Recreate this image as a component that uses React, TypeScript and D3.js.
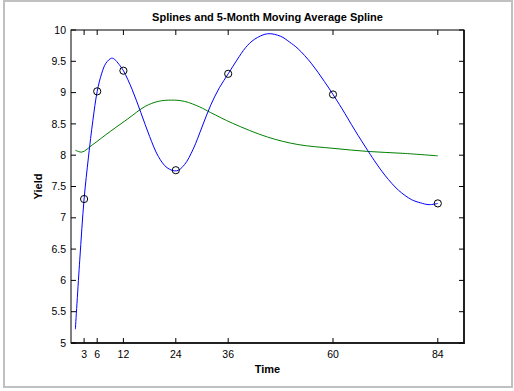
import React from 'react';
import * as d3 from 'd3';

// knots of the spline (the circles)
const knotTimes = [3, 6, 12, 24, 36, 60, 84];
const knotYields = [7.3, 9.02, 9.35, 7.76, 9.3, 8.97, 7.23];

// spline through the knots
const splineTimes = [1, 2, 3, 4, 5, 6, 7, 8, 9.3, 10, 11, 12, 14, 16, 18, 20, 22, 24.2, 26, 28, 30, 32, 34, 36, 38, 40, 42, 45, 48, 50, 52, 55, 58, 60, 62, 65, 68, 70, 72, 75, 78, 80, 82, 84];
const splineYields = [5.22, 6.32, 7.3, 7.97, 8.55, 9.02, 9.3, 9.47, 9.55, 9.53, 9.45, 9.35, 9.05, 8.68, 8.3, 7.98, 7.8, 7.75, 7.85, 8.1, 8.45, 8.8, 9.08, 9.3, 9.52, 9.72, 9.85, 9.94, 9.9, 9.81, 9.7, 9.47, 9.18, 8.97, 8.75, 8.4, 8.07, 7.86, 7.67, 7.44, 7.29, 7.24, 7.21, 7.23];

// 5-month moving average spline
const avgTimes = [1, 2.5, 5, 9, 13, 17, 20, 23, 26, 29.5, 32, 37, 45, 52, 60, 68, 76, 84];
const avgYields = [8.08, 8.05, 8.17, 8.38, 8.58, 8.78, 8.86, 8.88, 8.86, 8.77, 8.68, 8.51, 8.29, 8.17, 8.11, 8.06, 8.03, 7.99];

const xTicks = [3, 6, 12, 24, 36, 60, 84];
const yTicks = [5, 5.5, 6, 6.5, 7, 7.5, 8, 8.5, 9, 9.5, 10];

const W = 514;
const H = 391;
const box = { left: 71, top: 30, right: 464, bottom: 343 };
const font = 'Arial, "Liberation Sans", Helvetica, sans-serif';

export default function App() {
  const x = d3.scaleLinear().domain([0, 90]).range([box.left, box.right]);
  const y = d3.scaleLinear().domain([5, 10]).range([box.bottom, box.top]);

  const line = d3.line<[number, number]>()
    .x(d => x(d[0]))
    .y(d => y(d[1]))
    .curve(d3.curveCatmullRom.alpha(0.5));

  const spline = splineTimes.map((t, i) => [t, splineYields[i]] as [number, number]);
  const avg = avgTimes.map((t, i) => [t, avgYields[i]] as [number, number]);
  const tickLen = 5;

  return (
    <svg width={W} height={H} style={{ position: 'absolute', left: 0, top: 0, background: '#fff' }}>
      <rect x={4} y={1} width={508} height={386} fill="#fff" stroke="#c0c0c0" strokeWidth={2} />

      {/* axes box */}
      <rect x={box.left} y={box.top} width={box.right - box.left} height={box.bottom - box.top}
        fill="#fff" stroke="#000" strokeWidth={1} />
      <line x1={box.right} x2={box.right} y1={box.top} y2={box.bottom + 1} stroke="#222" strokeWidth={2} />
      <line x1={box.left} x2={box.right + 1} y1={box.bottom} y2={box.bottom} stroke="#222" strokeWidth={2} />

      {/* y ticks */}
      {yTicks.map(t => (
        <g key={'y' + t}>
          <line x1={box.left} x2={box.left + tickLen} y1={y(t)} y2={y(t)} stroke="#000" />
          <line x1={box.right - tickLen} x2={box.right} y1={y(t)} y2={y(t)} stroke="#000" />
          <text x={box.left - 5} y={y(t)} dy="0.35em" textAnchor="end" fontSize={10.5} fontFamily={font}>{t}</text>
        </g>
      ))}

      {/* x ticks */}
      {xTicks.map(t => (
        <g key={'x' + t}>
          <line x1={x(t)} x2={x(t)} y1={box.bottom} y2={box.bottom - tickLen} stroke="#000" />
          <line x1={x(t)} x2={x(t)} y1={box.top} y2={box.top + tickLen} stroke="#000" />
          <text x={x(t)} y={357.5} textAnchor="middle" fontSize={10.5} fontFamily={font}>{t}</text>
        </g>
      ))}

      <path d={line(avg) ?? ''} fill="none" stroke="#008000" strokeWidth={1} />
      <path d={line(spline) ?? ''} fill="none" stroke="#0000ff" strokeWidth={1} />

      {knotTimes.map((t, i) => (
        <circle key={'c' + t} cx={x(t)} cy={y(knotYields[i])} r={3.6} fill="none" stroke="#000" strokeWidth={1} />
      ))}

      <text x={(box.left + box.right) / 2} y={21} textAnchor="middle" fontSize={11} fontWeight="bold" fontFamily={font}>
        Splines and 5-Month Moving Average Spline
      </text>
      <text x={(box.left + box.right) / 2} y={372.5} textAnchor="middle" fontSize={11} fontWeight="bold" fontFamily={font}>
        Time
      </text>
      <text transform={`translate(41.5,${(box.top + box.bottom) / 2}) rotate(-90)`} textAnchor="middle"
        fontSize={11} fontWeight="bold" fontFamily={font}>
        Yield
      </text>
    </svg>
  );
}
